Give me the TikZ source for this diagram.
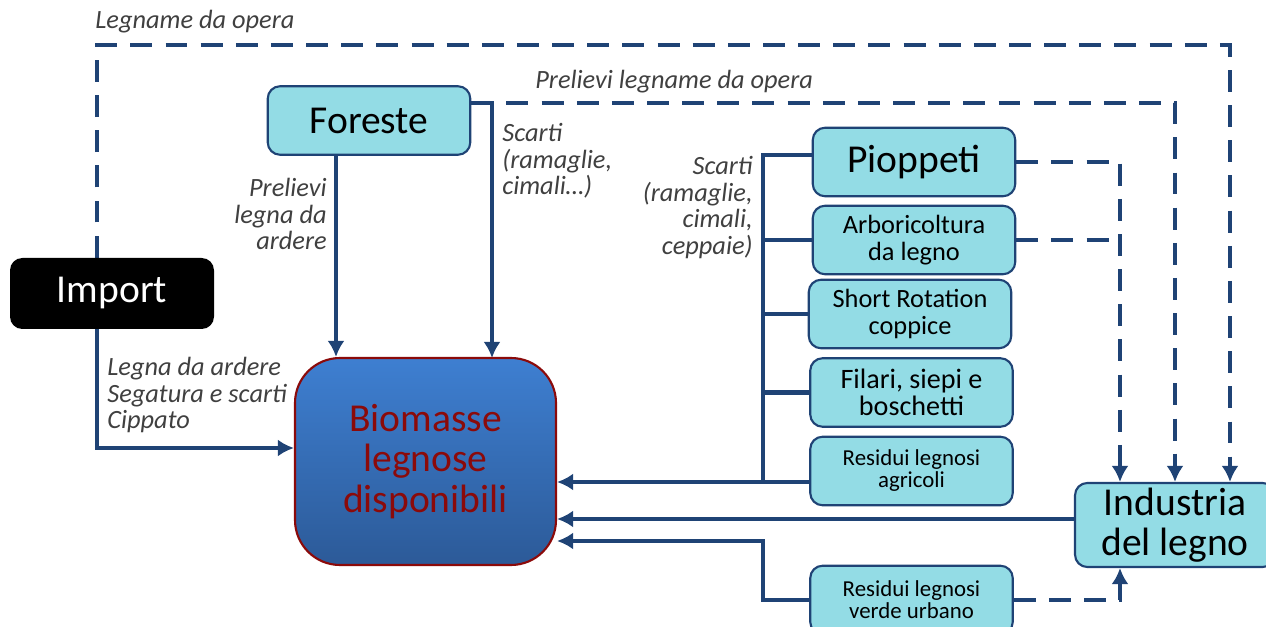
\documentclass[tikz,border=0pt]{standalone}
\usepackage{fontspec}
\setmainfont{Carlito}
\usepackage{tikz}
\usetikzlibrary{arrows.meta}
\definecolor{bordoblu}{HTML}{1F4375}
\definecolor{azzurro}{HTML}{93DCE5}
\definecolor{rossoscuro}{HTML}{8B0A0A}
\definecolor{grigiotesto}{HTML}{404040}
\definecolor{bluchiaro}{HTML}{3E7FD1}
\definecolor{bluscuro}{HTML}{2C5A98}
\pgfdeclarelayer{linee_layer}
\pgfdeclarelayer{schema}
\pgfsetlayers{linee_layer,schema,main}
\tikzstyle{fonte}=[draw=bordoblu,fill=azzurro,rounded corners=7pt,line width=1.2pt,align=center,inner sep=2pt,minimum width=4.05cm,minimum height=1.37cm]
\tikzstyle{fontegrande}=[fonte,font=\fontsize{22.5}{22.5}\selectfont]
\tikzstyle{fontemedia}=[fonte,font=\fontsize{15}{15}\selectfont]
\tikzstyle{fontepiccola}=[fonte,font=\fontsize{13}{12.5}\selectfont]
\tikzstyle{importa}=[fill=black,text=white,rounded corners=7pt,minimum width=4.08cm,minimum height=1.42cm,font=\fontsize{22.5}{22.5}\selectfont]
\tikzstyle{biomassa}=[draw=rossoscuro,line width=1.2pt,top color=bluchiaro,bottom color=bluscuro,rounded corners=0.9cm,text=rossoscuro,align=center,minimum width=5.22cm,minimum height=4.14cm,font=\fontsize{22.5}{23}\selectfont]
\tikzstyle{etichetta}=[inner sep=0pt,text=grigiotesto,font=\itshape\fontsize{15}{15}\selectfont]
\tikzstyle{linea}=[draw=bordoblu,line width=2.6pt]
\tikzstyle{freccia}=[linea,-{Latex[length=0.32cm,width=0.34cm]}]
\tikzstyle{tratteggio}=[freccia,dash pattern=on 12.5pt off 7.5pt]

\begin{document}
\begin{tikzpicture}
		\useasboundingbox (0,0) rectangle (25.32,-12.54);
		\begin{pgfonlayer}{schema}
			\node [style=importa] (import) at (2.24,-5.87) {Import};
			\node [style=fontegrande] (foreste) at (7.38,-2.41) {Foreste};
			\node [style=biomassa] (biomasse) at (8.51,-9.23) {Biomasse\\legnose\\disponibili};
			\node [style=fontegrande] (pioppeti) at (18.28,-3.24) {Pioppeti};
			\node [style=fontemedia] (arboricoltura) at (18.28,-4.80) {Arboricoltura\\da legno};
			\node [style=fontemedia] (src) at (18.20,-6.28) {Short Rotation\\coppice};
			\node [style=fontemedia,font=\fontsize{16}{15.5}\selectfont] (filari) at (18.23,-7.85) {Filari, siepi e\\boschetti};
			\node [style=fontepiccola] (agricoli) at (18.23,-9.42) {Residui legnosi\\agricoli};
			\node [style=fontepiccola] (urbano) at (18.23,-12.00) {Residui legnosi\\verde urbano};
			\node [style=fontegrande,minimum width=4cm,minimum height=1.68cm] (industria) at (23.5,-10.5) {Industria\\del legno};
			% etichette
			\node [style=etichetta,anchor=west] (lbl_opera) at (1.9,-0.44) {Legname da opera};
			\node [style=etichetta,anchor=west] (lbl_prelievi) at (10.7,-1.64) {Prelievi legname da opera};
			\node [style=etichetta,anchor=east,align=right] (lbl_ardere) at (6.54,-4.28) {Prelievi\\legna da\\ardere};
			\node [style=etichetta,anchor=west,align=left] (lbl_scarti_f) at (10.04,-3.22) {Scarti\\(ramaglie,\\cimali…)};
			\node [style=etichetta,anchor=east,align=right] (lbl_scarti_p) at (15.06,-4.15) {Scarti\\(ramaglie,\\cimali,\\ceppaie)};
			\node [style=etichetta,anchor=west,align=left] (lbl_import) at (2.14,-7.9) {Legna da ardere\\Segatura e scarti\\Cippato};
		\end{pgfonlayer}
		\begin{pgfonlayer}{linee_layer}
			\coordinate (angolo_opera) at (24.6,-0.9);
			\coordinate (caduta) at ([xshift=-1.1cm]industria.north);
			\coordinate (scarti_f) at (9.84,-7.16);
			\coordinate (bus_top) at (15.26,-3.10);
			\coordinate (bus_bottom) at (15.26,-9.64);
			\coordinate (angolo_urbano) at (15.26,-10.82);
			% tratteggi verso industria
			\path [style=tratteggio] ([xshift=-0.3cm]import.north) |- (angolo_opera) -- (angolo_opera |- industria.north);
			\path [style=tratteggio] ([yshift=0.35cm]foreste.east) -| (industria.north);
			\path [style=tratteggio] (pioppeti.east) -| (caduta);
			\path [style=tratteggio,-] (arboricoltura.east) -- (arboricoltura.east -| caduta);
			\path [style=tratteggio] (urbano.east) -| ([xshift=-1.1cm]industria.south);
			% frecce verso biomasse
			\path [style=freccia] ([xshift=-0.66cm]foreste.south) -- ([xshift=-0.66cm]foreste.south |- biomasse.north);
			\path [style=freccia] ([yshift=0.35cm]foreste.east) -| (scarti_f);
			\path [style=freccia] ([xshift=-0.3cm]import.south) |- ([yshift=0.27cm]biomasse.west);
			\path [style=linea] (pioppeti.west |- bus_top) -- (bus_top) -- (bus_bottom);
			\path [style=linea] (arboricoltura.west) -- (arboricoltura.west -| bus_top);
			\path [style=linea] (src.west) -- (src.west -| bus_top);
			\path [style=linea] (filari.west) -- (filari.west -| bus_top);
			\path [style=freccia] (agricoli.west |- bus_bottom) -- (bus_bottom -| biomasse.east);
			\path [style=freccia] ([yshift=0.12cm]industria.west) -- ([yshift=0.12cm]industria.west -| biomasse.east);
			\path [style=freccia] (urbano.west) -| (angolo_urbano) -- (angolo_urbano -| biomasse.east);
		\end{pgfonlayer}
\end{tikzpicture}
\end{document}
